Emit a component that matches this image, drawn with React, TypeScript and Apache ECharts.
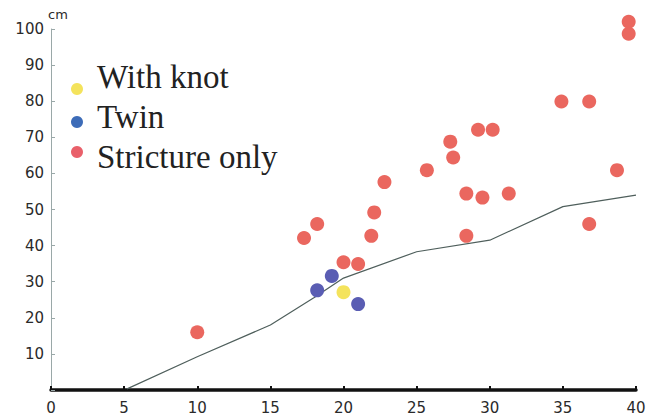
import React, { useEffect, useRef } from "react";
import * as echarts from "echarts";

const xTicks = [0, 5, 10, 15, 20, 25, 30, 35, 40];
const yTicks = [10, 20, 30, 40, 50, 60, 70, 80, 90, 100];

const strictureOnly: [number, number][] = [
  [10, 16], [17.3, 42.1], [18.2, 46], [20, 35.4], [21, 34.9], [21.9, 42.7],
  [22.1, 49.2], [22.8, 57.6], [25.7, 60.9], [27.3, 68.8], [27.5, 64.4],
  [28.4, 54.4], [28.4, 42.7], [29.2, 72.1], [29.5, 53.3], [30.2, 72.1],
  [31.3, 54.4], [34.9, 79.9], [36.8, 79.9], [36.8, 46], [38.7, 60.9],
  [39.5, 98.7], [39.5, 102],
];
const twin: [number, number][] = [[18.2, 27.6], [19.2, 31.6], [21, 23.8]];
const withKnot: [number, number][] = [[20, 27.1]];
const curve: [number, number][] = [
  [5.2, 0.3], [10, 9.2], [15, 18], [18, 25.6], [20, 31], [25, 38.3],
  [30, 41.5], [35, 50.8], [40, 54],
];

const legendItems = [
  { name: "With knot", color: "#f4e35c" },
  { name: "Twin", color: "#3d6cb8" },
  { name: "Stricture only", color: "#e9606a" },
];

const RED = "#ea675f";
const BLUE = "#5a5db3";
const YELLOW = "#f4e35c";

export default function App() {
  const ref = useRef<HTMLDivElement>(null);
  useEffect(() => {
    if (!ref.current) return;
    const chart = echarts.init(ref.current, null, { renderer: "svg" });
    const circleY = [89, 122, 152];
    const textY = [93, 133, 173];
    chart.setOption({
      animation: false,
      backgroundColor: "#ffffff",
      grid: { left: 51, right: 27, top: 29, bottom: 25 },
      xAxis: {
        type: "value",
        min: 0,
        max: 40,
        interval: 5,
        axisLine: { lineStyle: { color: "#111", width: 3.5 } },
        axisTick: { inside: true, length: 4, lineStyle: { color: "#111", width: 2 } },
        splitLine: { show: false },
        axisLabel: {
          margin: 10,
          fontFamily: "DejaVu Sans",
          fontSize: 15,
          color: "#2a2a2a",
          formatter: (v: number) => (xTicks.includes(v) ? String(v) : ""),
        },
      },
      yAxis: {
        type: "value",
        min: 0,
        max: 100,
        interval: 10,
        name: "cm",
        nameLocation: "end",
        nameGap: 8,
        nameTextStyle: {
          align: "left",
          fontFamily: "DejaVu Sans",
          fontSize: 13,
          color: "#2a2a2a",
          padding: [0, 0, 0, -3],
        },
        axisLine: { show: true, lineStyle: { color: "#9aa8a8", width: 1 } },
        axisTick: { show: true, inside: true, length: 4, lineStyle: { color: "#9aa8a8" } },
        splitLine: { show: false },
        axisLabel: {
          margin: 7,
          fontFamily: "DejaVu Sans",
          fontSize: 15,
          color: "#2a2a2a",
          formatter: (v: number) => (yTicks.includes(v) ? String(v) : ""),
        },
      },
      series: [
        {
          type: "line",
          data: curve,
          symbol: "none",
          lineStyle: { color: "#4f5f5c", width: 1.2 },
          z: 1,
        },
        {
          name: "Stricture only",
          type: "scatter",
          data: strictureOnly,
          symbolSize: 14,
          clip: false,
          itemStyle: { color: RED, opacity: 1 },
          z: 3,
        },
        {
          name: "Twin",
          type: "scatter",
          data: twin,
          symbolSize: 14,
          clip: false,
          itemStyle: { color: BLUE, opacity: 1 },
          z: 3,
        },
        {
          name: "With knot",
          type: "scatter",
          data: withKnot,
          symbolSize: 14,
          clip: false,
          itemStyle: { color: YELLOW, opacity: 1 },
          z: 3,
        },
      ],
      graphic: legendItems.flatMap((it, i) => [
        {
          type: "circle",
          shape: { cx: 77, cy: circleY[i], r: 6 },
          style: { fill: it.color },
        },
        {
          type: "text",
          x: 97,
          y: textY[i],
          style: {
            text: it.name,
            font: "33px 'Liberation Serif'",
            fill: "#222",
            textVerticalAlign: "bottom",
          },
        },
      ]),
    });
    return () => chart.dispose();
  }, []);
  return (
    <div
      ref={ref}
      style={{ position: "fixed", left: 0, top: 0, width: 663, height: 415 }}
    />
  );
}
